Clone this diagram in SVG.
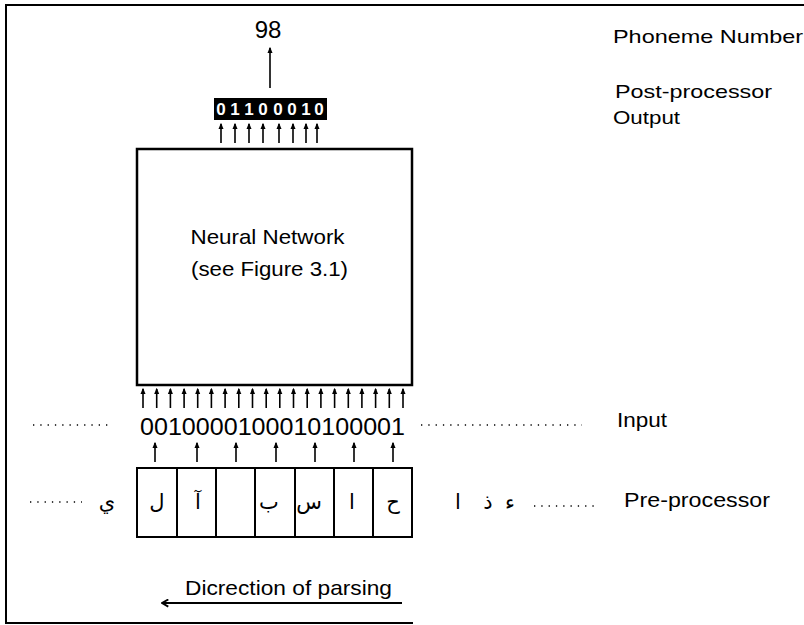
<svg xmlns="http://www.w3.org/2000/svg" width="804" height="625" viewBox="0 0 804 625">
<style>
.t{font-family:"Liberation Sans",Arial,sans-serif;fill:#000}
.ar{font-family:"DejaVu Sans","Noto Sans",sans-serif;fill:#000;font-size:21px;text-anchor:middle}
.ln{stroke:#000;stroke-width:2;fill:none}
.box{stroke:#000;stroke-width:2.5;fill:#fff}
.ar-up{stroke:#000;stroke-width:1.6;marker-end:url(#ah)}
.dots{stroke:#000;stroke-width:1.3;stroke-dasharray:1.3 6}
</style>
<defs>
<marker id="ah" viewBox="0 0 10 10" refX="8" refY="5" markerWidth="4" markerHeight="4" orient="auto">
<path d="M0,1 L10,5 L0,9 z" fill="#000"/>
</marker>
<marker id="ahl" viewBox="0 0 10 10" refX="9" refY="5" markerWidth="5" markerHeight="5" orient="auto">
<path d="M2,1 L9,5 L2,9" fill="none" stroke="#000" stroke-width="2"/>
</marker>
</defs>

<g id="frame">
<line class="ln" x1="6" y1="5" x2="804" y2="5"/>
<line class="ln" x1="6" y1="4" x2="6" y2="624"/>
<line class="ln" x1="5" y1="623" x2="413" y2="623"/>
</g>

<g id="phoneme-number">
<text class="t" x="268" y="38" font-size="24" text-anchor="middle">98</text>
</g>

<g id="post-output">
<rect x="214" y="98" width="113" height="22" fill="#000"/>
<g class="t" font-size="17" font-weight="bold" text-anchor="middle" style="fill:#fff">
<text x="221" y="115">0</text>
<text x="235" y="115">1</text>
<text x="249" y="115">1</text>
<text x="263" y="115">0</text>
<text x="278" y="115">0</text>
<text x="292" y="115">0</text>
<text x="306" y="115">1</text>
<text x="319" y="115">0</text>
</g>
</g>

<g id="neural-network">
<rect class="box" x="137" y="149" width="275" height="236"/>
<text class="t" x="267.5" y="244" font-size="21" text-anchor="middle" textLength="154" lengthAdjust="spacingAndGlyphs">Neural Network</text>
<text class="t" x="269.5" y="276" font-size="21" text-anchor="middle" textLength="157" lengthAdjust="spacingAndGlyphs">(see Figure 3.1)</text>
</g>

<g id="input">
<text class="t" x="140" y="435" font-size="24" textLength="265" lengthAdjust="spacingAndGlyphs">0010000100010100001</text>
</g>

<g id="pre-processor-cells">
<rect x="137" y="468" width="275" height="69" fill="#fff" stroke="#000" stroke-width="2"/>
<line class="ln" x1="177" y1="468" x2="177" y2="537"/>
<line class="ln" x1="216" y1="468" x2="216" y2="537"/>
<line class="ln" x1="255" y1="468" x2="255" y2="537"/>
<line class="ln" x1="295" y1="468" x2="295" y2="537"/>
<line class="ln" x1="334" y1="468" x2="334" y2="537"/>
<line class="ln" x1="373" y1="468" x2="373" y2="537"/>
<text class="ar" x="157" y="509">ل</text>
<text class="ar" x="198" y="509">آ</text>
<text class="ar" x="269" y="509">ب</text>
<text class="ar" x="309" y="509">س</text>
<text class="ar" x="352" y="509">ا</text>
<text class="ar" x="393" y="509">ح</text>
</g>

<g id="outside-letters">
<text class="ar" x="107" y="509">ي</text>
<text class="ar" x="458" y="509" font-size="17">ا</text>
<text class="ar" x="488" y="509" font-size="17">ذ</text>
<text class="ar" x="510" y="509" font-size="17">ء</text>
</g>

<g id="labels">
<text class="t" x="613" y="43" font-size="19" textLength="190" lengthAdjust="spacingAndGlyphs">Phoneme Number</text>
<text class="t" x="615" y="98" font-size="19" textLength="157" lengthAdjust="spacingAndGlyphs">Post-processor</text>
<text class="t" x="613" y="124" font-size="19" textLength="67" lengthAdjust="spacingAndGlyphs">Output</text>
<text class="t" x="617" y="427" font-size="20" textLength="50" lengthAdjust="spacingAndGlyphs">Input</text>
<text class="t" x="624" y="507" font-size="20" textLength="146" lengthAdjust="spacingAndGlyphs">Pre-processor</text>
<text class="t" x="185" y="595" font-size="21" textLength="207" lengthAdjust="spacingAndGlyphs">Dicrection of parsing</text>
</g>

<g id="connectors">
<line class="ar-up" x1="270" y1="88" x2="270" y2="48"/>
<line class="ar-up" x1="221" y1="143" x2="221" y2="124"/>
<line class="ar-up" x1="235" y1="143" x2="235" y2="124"/>
<line class="ar-up" x1="249" y1="143" x2="249" y2="124"/>
<line class="ar-up" x1="263" y1="143" x2="263" y2="124"/>
<line class="ar-up" x1="279" y1="143" x2="279" y2="124"/>
<line class="ar-up" x1="293" y1="143" x2="293" y2="124"/>
<line class="ar-up" x1="306" y1="143" x2="306" y2="124"/>
<line class="ar-up" x1="317" y1="143" x2="317" y2="124"/>

<line class="ar-up" x1="143" y1="408" x2="143" y2="389"/>
<line class="ar-up" x1="156.7" y1="408" x2="156.7" y2="389"/>
<line class="ar-up" x1="170.4" y1="408" x2="170.4" y2="389"/>
<line class="ar-up" x1="184.1" y1="408" x2="184.1" y2="389"/>
<line class="ar-up" x1="197.7" y1="408" x2="197.7" y2="389"/>
<line class="ar-up" x1="211.4" y1="408" x2="211.4" y2="389"/>
<line class="ar-up" x1="225.1" y1="408" x2="225.1" y2="389"/>
<line class="ar-up" x1="238.8" y1="408" x2="238.8" y2="389"/>
<line class="ar-up" x1="252.5" y1="408" x2="252.5" y2="389"/>
<line class="ar-up" x1="266.2" y1="408" x2="266.2" y2="389"/>
<line class="ar-up" x1="279.8" y1="408" x2="279.8" y2="389"/>
<line class="ar-up" x1="293.5" y1="408" x2="293.5" y2="389"/>
<line class="ar-up" x1="307.2" y1="408" x2="307.2" y2="389"/>
<line class="ar-up" x1="320.9" y1="408" x2="320.9" y2="389"/>
<line class="ar-up" x1="334.6" y1="408" x2="334.6" y2="389"/>
<line class="ar-up" x1="348.3" y1="408" x2="348.3" y2="389"/>
<line class="ar-up" x1="361.9" y1="408" x2="361.9" y2="389"/>
<line class="ar-up" x1="375.6" y1="408" x2="375.6" y2="389"/>
<line class="ar-up" x1="389.3" y1="408" x2="389.3" y2="389"/>
<line class="ar-up" x1="403" y1="408" x2="403" y2="389"/>

<line class="ar-up" x1="155" y1="462" x2="155" y2="443"/>
<line class="ar-up" x1="197" y1="462" x2="197" y2="443"/>
<line class="ar-up" x1="236" y1="462" x2="236" y2="443"/>
<line class="ar-up" x1="276" y1="462" x2="276" y2="443"/>
<line class="ar-up" x1="315" y1="462" x2="315" y2="443"/>
<line class="ar-up" x1="354" y1="462" x2="354" y2="443"/>
<line class="ar-up" x1="393" y1="462" x2="393" y2="443"/>

<line x1="402" y1="603" x2="162" y2="603" stroke="#000" stroke-width="1.8" marker-end="url(#ahl)"/>

<line class="dots" x1="33" y1="425" x2="112" y2="425"/>
<line class="dots" x1="421" y1="425" x2="582" y2="425"/>
<line class="dots" x1="30" y1="502" x2="82" y2="502"/>
<line class="dots" x1="534" y1="506" x2="594" y2="506"/>
</g>
</svg>
